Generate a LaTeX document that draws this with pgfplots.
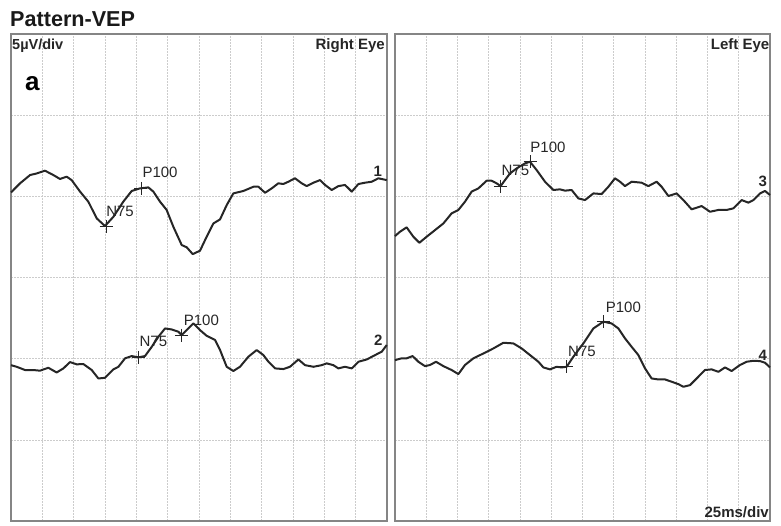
\documentclass[border=0pt]{standalone}
\usepackage{pgfplots}
\pgfplotsset{compat=1.18}
\usepackage{fontspec}
\setmainfont{Liberation Sans}
\setsansfont{Liberation Sans}
\definecolor{trace}{HTML}{262626}
\definecolor{gridc}{HTML}{CCCCCC}
\definecolor{framec}{HTML}{858585}
\pgfplotsset{vep/.style={
  scale only axis, height=487pt,
  xmin=0,xmax=300,ymin=-15,ymax=15,
  xtick={0,25,...,300}, ytick={-15,-10,...,15},
  xticklabels={}, yticklabels={}, tick style={draw=none},
  grid=major, grid style={gridc, line width=0.6pt, dash pattern=on 1.5pt off 1.5pt},
  axis line style={framec, line width=1.3pt},
  clip=false, anchor=south west,
},
 tr/.style={trace, line width=2pt, line join=round, no marks},
 mk/.style={only marks, mark=+, mark size=6.5pt, mark options={line width=0.9pt, draw=trace}},
}
\tikzset{
 lab/.style={font=\fontsize{15}{17}\selectfont, text=trace, inner sep=0pt},
 num/.style={font=\bfseries\fontsize{15}{17}\selectfont, text=trace, inner sep=0pt}
}
\begin{document}
\begin{tikzpicture}
\useasboundingbox (0,0) rectangle (781pt,526pt);
\begin{axis}[vep, width=376pt, at={(11pt,5pt)}]
% trace 1
\addplot[tr] coordinates {
(0.0,5.24)(7.2,5.80)(15.2,6.31)(20.5,6.41)(27.1,6.58)(33.8,6.31)(39.1,6.07)(44.4,6.21)(48.4,6.00)
(55.1,5.29)(61.7,4.67)(68.4,3.64)(75.0,3.17)(81.7,3.74)(89.6,4.67)(96.3,5.33)(102.9,5.49)(109.6,5.55)
(113.6,5.29)(118.9,4.67)(124.2,4.16)(129.5,3.13)(136.2,2.00)(140.2,1.86)(145.0,1.44)(150.8,1.65)
(156.1,2.51)(161.5,3.33)(166.8,3.58)(172.1,4.46)(177.4,5.18)(185.4,5.33)(193.4,5.59)(197.4,5.59)
(202.7,5.22)(208.0,5.49)(213.3,5.80)(217.3,5.76)(221.3,5.90)(226.6,6.11)(232.0,5.80)(235.9,5.63)
(241.3,5.84)(246.6,6.00)(250.6,5.70)(255.9,5.39)(261.2,5.63)(266.5,5.70)(271.9,5.29)(277.2,5.76)
(282.5,5.84)(287.8,5.90)(293.1,6.11)(299.8,6.00)};
\addplot[mk] coordinates {(75.8,3.13) (103.7,5.49)};
% trace 2
\addplot[tr] coordinates {
(0.0,-5.40)(4.5,-5.50)(11.2,-5.70)(17.8,-5.70)(23.1,-5.74)(29.8,-5.56)(36.4,-5.85)(41.8,-5.60)
(47.1,-5.21)(52.4,-5.35)(57.7,-5.33)(64.4,-5.70)(69.7,-6.22)(75.0,-6.18)(81.7,-5.66)(85.7,-5.50)
(91.0,-4.98)(96.3,-4.84)(101.6,-4.92)(106.9,-4.84)(112.3,-4.27)(117.6,-3.65)(122.9,-3.14)(128.2,-3.20)
(133.5,-3.34)(136.2,-3.55)(140.2,-3.24)(145.5,-2.83)(150.8,-3.24)(156.1,-3.59)(162.8,-3.85)(166.8,-4.47)
(172.1,-5.50)(177.4,-5.76)(182.7,-5.50)(189.4,-4.88)(196.0,-4.47)(201.4,-4.78)(205.4,-5.19)(210.7,-5.60)
(217.3,-5.64)(222.6,-5.50)(229.3,-5.05)(234.6,-5.40)(241.3,-5.50)(247.9,-5.40)(251.9,-5.29)(257.2,-5.40)
(261.2,-5.60)(266.5,-5.50)(271.9,-5.60)(277.2,-5.19)(283.8,-5.05)(290.5,-4.78)(295.8,-4.57)(299.8,-4.16)};
\addplot[mk] coordinates {(101.6,-4.92) (136.2,-3.55)};
\node[lab] at (axis cs:87,4.1) {N75};
\node[lab] at (axis cs:118.9,6.46) {P100};
\node[num] at (axis cs:292.6,6.52) {1};
\node[lab] at (axis cs:113.6,-3.96) {N75};
\node[lab] at (axis cs:151.9,-2.66) {P100};
\node[num] at (axis cs:293.1,-3.85) {2};
\end{axis}
\begin{axis}[vep, width=375pt, at={(395pt,5pt)}]
% trace 3
\addplot[tr] coordinates {
(0.0,2.55)(4.0,2.82)(9.3,3.09)(14.7,2.51)(19.5,2.14)(25.3,2.51)(32.0,2.92)(38.7,3.33)(45.3,3.95)
(50.7,4.16)(56.0,4.67)(61.3,5.29)(66.7,5.49)(73.3,5.96)(77.3,5.96)(81.3,5.80)(84.5,5.63)(88.0,6.00)
(92.0,6.41)(97.3,6.72)(104.0,7.03)(108.0,7.13)(113.3,6.62)(120.0,5.90)(126.7,5.39)(132.0,5.43)
(136.0,5.35)(141.3,5.39)(146.7,4.87)(152.0,4.77)(158.7,5.18)(165.3,5.14)(170.7,5.59)(176.0,6.11)
(180.0,5.90)(184.0,5.63)(189.3,5.90)(197.3,5.84)(202.7,5.63)(209.3,5.90)(213.3,5.59)(218.7,5.02)
(225.3,5.18)(230.7,4.77)(237.3,4.20)(245.3,4.40)(252.0,4.05)(258.7,4.16)(265.3,4.16)(270.7,4.26)
(277.3,4.77)(282.7,4.61)(286.7,4.77)(292.0,5.18)(296.0,5.33)(300.0,5.08)};
\addplot[mk] coordinates {(84.5,5.63) (108.0,7.13)};
% trace 4
\addplot[tr] coordinates {
(0.0,-5.09)(5.3,-4.98)(9.3,-4.98)(14.1,-4.84)(18.7,-5.19)(24.0,-5.46)(28.0,-5.39)(32.8,-5.19)
(38.7,-5.46)(45.3,-5.70)(50.7,-5.95)(56.0,-5.39)(62.7,-4.98)(70.7,-4.68)(78.7,-4.37)(86.7,-4.02)
(94.7,-4.06)(101.3,-4.37)(108.0,-4.78)(114.7,-5.19)(118.7,-5.54)(124.0,-5.66)(129.3,-5.50)(133.3,-5.54)
(137.3,-5.50)(142.7,-4.88)(150.7,-4.06)(158.7,-3.14)(166.7,-2.72)(173.3,-2.83)(178.7,-3.14)(184.0,-3.75)
(189.3,-4.27)(194.7,-4.78)(200.0,-5.60)(205.3,-6.22)(210.7,-6.28)(216.0,-6.28)(221.3,-6.42)(226.7,-6.57)
(230.7,-6.73)(236.0,-6.63)(241.3,-6.22)(248.0,-5.70)(253.3,-5.66)(258.7,-5.81)(264.0,-5.54)(269.3,-5.76)
(276.0,-5.39)(281.3,-5.19)(286.7,-5.13)(292.0,-5.15)(296.0,-5.25)(300.0,-5.54)};
\addplot[mk] coordinates {(137.3,-5.50) (166.7,-2.72)};
\node[lab] at (axis cs:96.3,6.62) {N75};
\node[lab] at (axis cs:122.4,8.02) {P100};
\node[num] at (axis cs:294.2,5.90) {3};
\node[lab] at (axis cs:149.6,-4.53) {N75};
\node[lab] at (axis cs:182.7,-1.84) {P100};
\node[num] at (axis cs:294.2,-4.78) {4};
\end{axis}
\node[anchor=base west, inner sep=0pt, font=\bfseries\fontsize{21.6}{24}\selectfont, text=black!90] at (10pt,499pt) {Pattern-VEP};
\node[anchor=base west, inner sep=0pt, font=\bfseries\fontsize{14.5}{16}\selectfont, text=trace] at (12pt,476.5pt) {5µV/div};
\node[anchor=base east, inner sep=0pt, font=\bfseries\fontsize{15}{17}\selectfont, text=trace] at (385pt,476.5pt) {Right Eye};
\node[anchor=base east, inner sep=0pt, font=\bfseries\fontsize{15}{17}\selectfont, text=trace] at (769.5pt,476pt) {Left Eye};
\node[anchor=base east, inner sep=0pt, font=\bfseries\fontsize{15}{17}\selectfont, text=trace] at (769pt,8pt) {25ms/div};
\node[anchor=base west, inner sep=0pt, font=\bfseries\fontsize{26}{28}\selectfont, text=black] at (25pt,435pt) {a};
\end{tikzpicture}
\end{document}
